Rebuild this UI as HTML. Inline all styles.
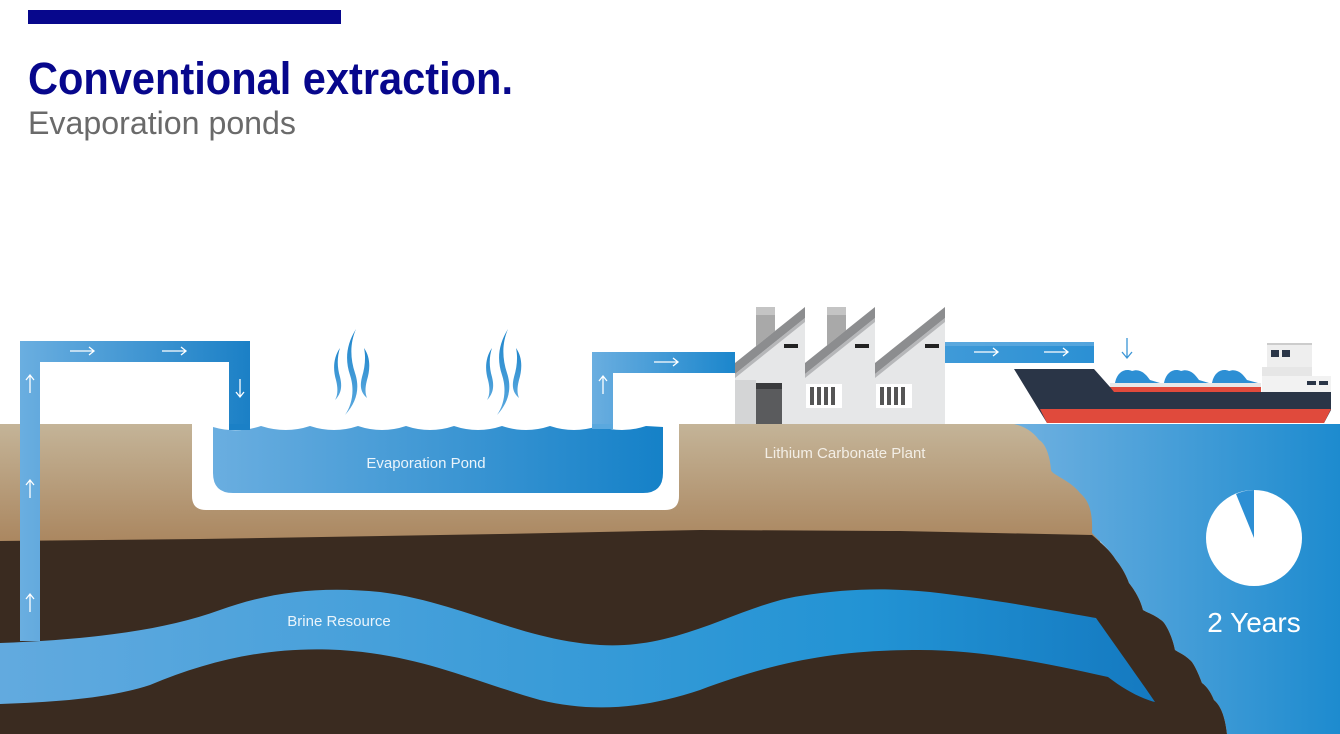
<!DOCTYPE html>
<html><head><meta charset="utf-8"><style>html,body{margin:0;padding:0;background:#fff;width:1340px;height:734px;overflow:hidden}</style></head>
<body>
<svg width="1340" height="734" viewBox="0 0 1340 734" xmlns="http://www.w3.org/2000/svg">
<defs>
<linearGradient id="tan" x1="0" y1="0" x2="0" y2="1"><stop offset="0" stop-color="#c4b498"/><stop offset="1" stop-color="#a8825a"/></linearGradient>
<linearGradient id="brine" gradientUnits="userSpaceOnUse" x1="0" y1="0" x2="1160" y2="0"><stop offset="0" stop-color="#62aadf"/><stop offset="0.75" stop-color="#2293d4"/><stop offset="1" stop-color="#1479c0"/></linearGradient>
<linearGradient id="sea" gradientUnits="userSpaceOnUse" x1="1015" y1="0" x2="1340" y2="0"><stop offset="0" stop-color="#6eb0e0"/><stop offset="1" stop-color="#1d8bcf"/></linearGradient>
<linearGradient id="pipe1" gradientUnits="userSpaceOnUse" x1="20" y1="0" x2="250" y2="0"><stop offset="0" stop-color="#6aaee0"/><stop offset="1" stop-color="#1b80c6"/></linearGradient>
<linearGradient id="pipe2" gradientUnits="userSpaceOnUse" x1="592" y1="0" x2="735" y2="0"><stop offset="0" stop-color="#6aaee0"/><stop offset="1" stop-color="#1b86cc"/></linearGradient>
<linearGradient id="pipe3" gradientUnits="userSpaceOnUse" x1="945" y1="0" x2="1094" y2="0"><stop offset="0" stop-color="#3f9ad8"/><stop offset="1" stop-color="#2b90d4"/></linearGradient>
<linearGradient id="pond" gradientUnits="userSpaceOnUse" x1="213" y1="0" x2="663" y2="0"><stop offset="0" stop-color="#6aaee0"/><stop offset="1" stop-color="#1581c8"/></linearGradient>
<linearGradient id="steam" x1="0" y1="0" x2="0" y2="1"><stop offset="0" stop-color="#1f86cc"/><stop offset="1" stop-color="#5aa8de"/></linearGradient>
</defs>

<rect x="28" y="10" width="313" height="14" fill="#07078c"/>
<text x="28" y="94" font-family="Liberation Sans, sans-serif" font-weight="bold" font-size="45" fill="#07078c" textLength="485" lengthAdjust="spacingAndGlyphs">Conventional extraction.</text>
<text x="28" y="134" font-family="Liberation Sans, sans-serif" font-size="32" fill="#6a6a6a" textLength="268" lengthAdjust="spacingAndGlyphs">Evaporation ponds</text>

<!-- ground -->
<rect x="0" y="424" width="1100" height="130" fill="url(#tan)"/>
<path d="M1014,424 L1340,424 L1340,734 L1227,734 C1225,715 1220,705 1214,700 C1210,690 1205,685 1202,683 C1198,672 1193,662 1190,660 C1185,655 1178,652 1175,650 C1172,635 1165,622 1161,620 C1155,615 1146,612 1143,610 C1140,598 1133,588 1129,583 C1125,572 1120,565 1116,560 C1110,550 1100,542 1092,533 C1093,510 1088,500 1080,493 C1070,480 1052,475 1051,470 C1050,455 1045,443 1039,440 C1032,430 1022,426 1014,424 Z" fill="url(#sea)"/>
<path d="M0,541 L200,539 L500,534 L700,530 L900,531 L1092,535 C1100,542 1110,550 1116,560 C1120,565 1125,572 1129,583 C1133,588 1140,598 1143,610 C1146,612 1155,615 1161,620 C1165,622 1172,635 1175,650 C1178,652 1185,655 1190,660 C1193,662 1198,672 1202,683 C1205,685 1210,690 1214,700 C1220,705 1225,715 1227,734 L0,734 Z" fill="#3a2b20"/>

<!-- brine -->
<path d="M0,643 C80,640 160,632 220,610 C270,592 320,586 380,592 C460,602 520,640 600,645 C680,650 740,605 800,596 C850,588 890,588 930,592 C1000,600 1060,612 1096,618 C1115,645 1140,680 1155,702 C1140,698 1125,690 1108,677 C1040,662 980,650 920,650 C840,650 780,660 700,690 C640,710 590,712 540,700 C470,680 420,655 340,650 C270,646 210,660 150,685 C110,698 60,702 0,704 Z" fill="url(#brine)"/>
<text x="339" y="626" text-anchor="middle" font-family="Liberation Sans, sans-serif" font-size="15" fill="#eaf4fb">Brine Resource</text>

<!-- pipe left -->
<path d="M20,641 L20,341 L250,341 L250,429 L229,429 L229,362 L40,362 L40,641 Z" fill="url(#pipe1)"/>
<g stroke="#fff" stroke-width="1.3" fill="none">
<path d="M30,393 L30,375 M26,380 L30,375 L34,380"/>
<path d="M30,498 L30,480 M26,485 L30,480 L34,485"/>
<path d="M30,612 L30,594 M26,599 L30,594 L34,599"/>
<path d="M70,351 L94,351 M89,347 L94,351 L89,355"/>
<path d="M162,351 L186,351 M181,347 L186,351 L181,355"/>
<path d="M240,379 L240,397 M236,392 L240,397 L244,392"/>
</g>

<!-- pond -->
<path d="M192,424 L679,424 L679,496 Q679,510 665,510 L206,510 Q192,510 192,496 Z" fill="#fff"/>
<path d="M213,427 Q237,434 261,426 Q286,434 310,426 Q334,434 358,426 Q382,434 406,426 Q430,434 454,426 Q478,434 502,426 Q526,434 550,426 Q574,434 598,426 Q622,434 646,426 L663,427 L663,473 Q663,493 643,493 L233,493 Q213,493 213,473 Z" fill="url(#pond)"/>
<rect x="229" y="424" width="21" height="6" fill="#1b80c6"/>
<rect x="592" y="424" width="21" height="5" fill="#5aa8de"/>
<text x="426" y="468" text-anchor="middle" font-family="Liberation Sans, sans-serif" font-size="15" fill="#eaf4fb">Evaporation Pond</text>

<!-- steam -->
<g fill="url(#steam)">
<path d="M356,329 C346,345 345,360 350,375 C355,390 352,405 345,415 C357,402 360,388 355,373 C350,358 350,343 356,329Z"/>
<path d="M340,348 C333,358 333,370 336,380 C338,388 338,395 335,400 C342,393 342,385 340,377 C337,367 337,357 340,348Z"/>
<path d="M364,348 C371,358 370,370 367,380 C365,388 365,393 367,398 C360,392 360,385 362,377 C365,367 366,357 364,348Z"/>
<path d="M508,329 C498,345 497,360 502,375 C507,390 504,405 497,415 C509,402 512,388 507,373 C502,358 502,343 508,329Z"/>
<path d="M492,348 C485,358 485,370 488,380 C490,388 490,395 487,400 C494,393 494,385 492,377 C489,367 489,357 492,348Z"/>
<path d="M516,348 C523,358 522,370 519,380 C517,388 517,393 519,398 C512,392 512,385 514,377 C517,367 518,357 516,348Z"/>
</g>

<!-- pipe to plant -->
<path d="M592,424 L592,352 L735,352 L735,373 L613,373 L613,424 Z" fill="url(#pipe2)"/>
<g stroke="#fff" stroke-width="1.3" fill="none">
<path d="M603,394 L603,376 M599,381 L603,376 L607,381"/>
<path d="M654,362 L678,362 M673,358 L678,362 L673,366"/>
</g>

<!-- factory -->
<rect x="756" y="307" width="19" height="40" fill="#a9a9a9"/>
<rect x="756" y="307" width="19" height="8" fill="#c4c4c4"/>
<rect x="827" y="307" width="19" height="40" fill="#a9a9a9"/>
<rect x="827" y="307" width="19" height="8" fill="#c4c4c4"/>
<path d="M735,424 L735,363 L805,307 L805,363 L875,307 L875,363 L945,307 L945,424 Z" fill="#e6e7e8"/>
<path d="M735,363 L805,307 L805,318 L735,374 Z M805,363 L875,307 L875,318 L805,374 Z M875,363 L945,307 L945,318 L875,374 Z" fill="#8c8d8f"/>
<path d="M735,374 L805,318 L805,322 L735,378 Z M805,374 L875,318 L875,322 L805,378 Z M875,374 L945,318 L945,322 L875,378 Z" fill="#b6b7b9"/>
<path d="M735,380 L756,380 L756,424 L735,424Z" fill="#d4d5d6"/>
<rect x="756" y="383" width="26" height="41" fill="#5a5b5d"/>
<rect x="756" y="383" width="26" height="6" fill="#3a3b3d"/>
<rect x="784" y="344" width="14" height="4" fill="#222"/>
<rect x="855" y="344" width="14" height="4" fill="#222"/>
<rect x="925" y="344" width="14" height="4" fill="#222"/>
<g fill="#fff"><rect x="806" y="384" width="36" height="24"/><rect x="876" y="384" width="36" height="24"/></g>
<g fill="#555"><rect x="810" y="387" width="4" height="18"/><rect x="817" y="387" width="4" height="18"/><rect x="824" y="387" width="4" height="18"/><rect x="831" y="387" width="4" height="18"/>
<rect x="880" y="387" width="4" height="18"/><rect x="887" y="387" width="4" height="18"/><rect x="894" y="387" width="4" height="18"/><rect x="901" y="387" width="4" height="18"/></g>
<text x="845" y="458" text-anchor="middle" font-family="Liberation Sans, sans-serif" font-size="15" fill="#f3eee6">Lithium Carbonate Plant</text>

<!-- pipe to ship -->
<rect x="945" y="342" width="149" height="21" fill="url(#pipe3)"/>
<rect x="945" y="342" width="149" height="4" fill="#6eb2e2" opacity="0.6"/>
<g stroke="#fff" stroke-width="1.3" fill="none">
<path d="M974,352 L998,352 M993,348 L998,352 L993,356"/>
<path d="M1044,352 L1068,352 M1063,348 L1068,352 L1063,356"/>
</g>
<path d="M1127,338 L1127,358 M1122,352 L1127,358 L1132,352" stroke="#3a95d6" stroke-width="1.3" fill="none"/>

<!-- ship -->
<rect x="1267" y="343" width="45" height="25" fill="#eeeeee"/>
<rect x="1267" y="343" width="45" height="2" fill="#ccc"/>
<rect x="1271" y="350" width="8" height="7" fill="#2a3547"/><rect x="1282" y="350" width="8" height="7" fill="#2a3547"/>
<rect x="1262" y="367" width="50" height="25" fill="#e6e6e6"/>
<rect x="1262" y="376" width="69" height="16" fill="#f2f2f2"/>
<rect x="1307" y="381" width="9" height="4" fill="#2a3547"/><rect x="1319" y="381" width="9" height="4" fill="#2a3547"/>
<g fill="#2d8fd4">
<path d="M1115,383 C1117,372 1125,368 1132,371 C1140,368 1146,374 1150,380 L1160,383 Z"/>
<path d="M1164,383 C1166,372 1174,368 1181,371 C1189,368 1195,374 1199,380 L1209,383 Z"/>
<path d="M1212,383 C1214,372 1222,368 1229,371 C1237,368 1243,374 1247,380 L1258,383 Z"/>
</g>
<rect x="1110" y="383" width="151" height="4" fill="#e8e8e8"/>
<path d="M1014,369 L1094,369 L1110,387 L1261,387 L1261,392 L1331,392 L1331,410 L1324,423 L1047,423 Z" fill="#2a3547"/>
<path d="M1110,387 L1261,387 L1261,392 L1114,392 Z" fill="#e04a3c"/>
<path d="M1040,409 L1331,409 L1324,423 L1047,423 Z" fill="#e04a3c"/>

<!-- pie -->
<circle cx="1254" cy="538" r="48" fill="#fff"/>
<path d="M1254,538 L1236,494 A48,48 0 0,1 1254,490 Z" fill="#2d8fd4"/>
<text x="1254" y="632" text-anchor="middle" font-family="Liberation Sans, sans-serif" font-size="28" fill="#fff">2 Years</text>
</svg>
</body></html>
